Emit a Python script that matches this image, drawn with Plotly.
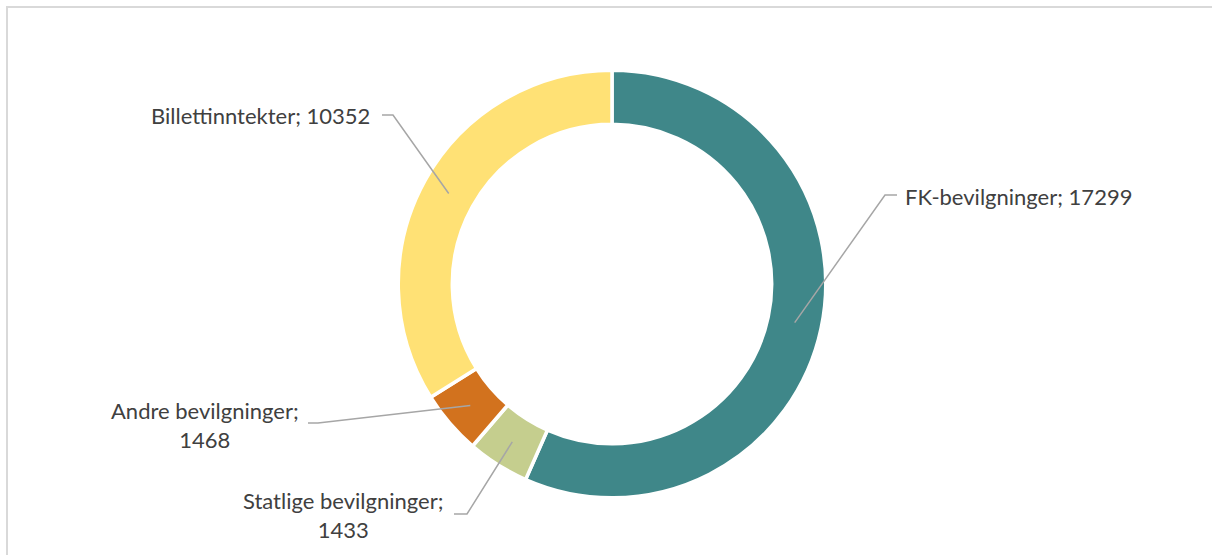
import math
import plotly.graph_objects as go

# Revenue sources (NOK thousands)
labels = ["FK-bevilgninger", "Statlige bevilgninger", "Andre bevilgninger", "Billettinntekter"]
values = [17299, 1433, 1468, 10352]
colors = ["#3F8789", "#C5CE8E", "#D2721E", "#FFE175"]
label_text = [
    "FK-bevilgninger; 17299",
    "Statlige bevilgninger;<br>1433",
    "Andre bevilgninger;<br>1468",
    "Billettinntekter; 10352",
]

W, H = 1212, 555
CX, CY = 612, 284          # donut centre in pixels
R_OUT = 213.75             # outer radius incl. half the white border
HOLE = 0.747
BORDER = 3.5

# Label layout: elbow point, end of horizontal tick, text anchor, text alignment
label_layout = [
    dict(elbow=(885, 195), tick=(897, 195), text=(903, 197), xanchor="left"),
    dict(elbow=(467, 514), tick=(454, 514), text=(343, 515), xanchor="center"),
    dict(elbow=(318, 423), tick=(308, 423), text=(205, 425), xanchor="center"),
    dict(elbow=(393, 115), tick=(382, 115), text=(372, 115), xanchor="right"),
]


def px(x):
    return x / W


def py(y):
    return 1 - y / H


fig = go.Figure(
    go.Pie(
        labels=labels,
        values=values,
        hole=HOLE,
        sort=False,
        direction="clockwise",
        rotation=0,
        marker=dict(colors=colors, line=dict(color="white", width=BORDER)),
        textinfo="none",
        hoverinfo="label+value",
        domain=dict(
            x=[px(CX - R_OUT), px(CX + R_OUT)],
            y=[py(CY + R_OUT), py(CY - R_OUT)],
        ),
    )
)

# Leader lines start at the middle of each ring segment
total = sum(values)
r_mid = (R_OUT - BORDER / 2 + R_OUT * HOLE + BORDER / 2) / 2
shapes = []
annotations = []
cum = 0
for v, txt, lay in zip(values, label_text, label_layout):
    frac = (cum + v / 2) / total
    cum += v
    ang = 2 * math.pi * frac
    sx = CX + r_mid * math.sin(ang)
    sy = CY - r_mid * math.cos(ang)
    ex, ey = lay["elbow"]
    tx, ty = lay["tick"]
    path = f"M {px(sx)} {py(sy)} L {px(ex)} {py(ey)} L {px(tx)} {py(ty)}"
    shapes.append(dict(type="path", xref="paper", yref="paper", path=path,
                       line=dict(color="#A6A6A6", width=1.5)))
    ax, ay = lay["text"]
    annotations.append(dict(
        x=px(ax), y=py(ay), xref="paper", yref="paper",
        text=txt, showarrow=False, xanchor=lay["xanchor"], yanchor="middle",
        align="center", font=dict(family="Lato", size=22, color="#404040"),
    ))

# Chart frame (runs off the right and bottom edges)
shapes.append(dict(type="rect", xref="paper", yref="paper",
                   x0=px(7), y0=-0.05, x1=1.05, y1=py(7),
                   line=dict(color="#D9D9D9", width=2), fillcolor="rgba(0,0,0,0)",
                   layer="below"))

fig.update_layout(
    width=W, height=H,
    margin=dict(l=0, r=0, t=0, b=0),
    paper_bgcolor="white",
    plot_bgcolor="white",
    showlegend=False,
    shapes=shapes,
    annotations=annotations,
)

fig.write_html("out.html")
